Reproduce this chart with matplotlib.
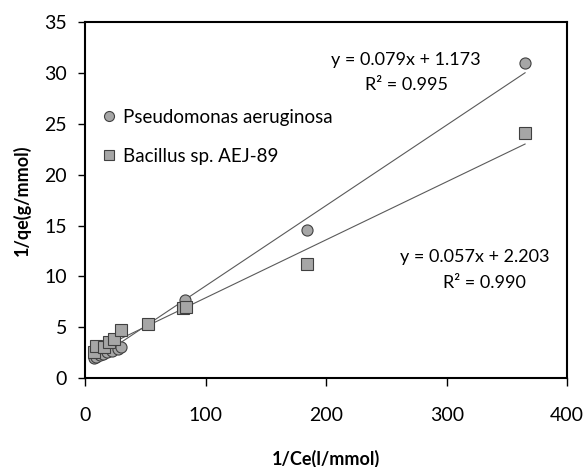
import numpy as np
import matplotlib
matplotlib.use('Agg')
import matplotlib.pyplot as plt

plt.rcParams['font.family'] = ['Lato', 'DejaVu Sans']

# Pseudomonas aeruginosa
pseudoX = [7, 9, 12, 15, 18, 22, 27, 30, 83, 184, 365]
pseudoY = [1.95, 2.1, 2.3, 2.4, 2.6, 2.7, 2.9, 3.1, 7.7, 14.6, 31.0]
pseudoFit = (0.079, 1.173)

# Bacillus sp. AEJ-89
bacX = [7, 9, 16, 20, 24, 30, 52, 81, 84, 184, 365]
bacY = [2.6, 3.2, 3.1, 3.6, 3.9, 4.7, 5.3, 6.9, 7.0, 11.2, 24.1]
bacFit = (0.057, 2.203)

fig = plt.figure(figsize=(5.83, 4.67), dpi=100)
ax = fig.add_axes([0.146, 0.19, 0.827, 0.763])

fillCol = '#a6a6a6'
edgeCol = '#404040'
lineCol = '#5a5a5a'

for xs, fit in [(pseudoX, pseudoFit), (bacX, bacFit)]:
    xl = np.array([min(xs), max(xs)])
    ax.plot(xl, fit[0] * xl + fit[1], color=lineCol, lw=0.8, zorder=2)

ax.plot(pseudoX, pseudoY, 'o', ms=8, mfc=fillCol, mec=edgeCol, mew=0.8,
        label='Pseudomonas aeruginosa', zorder=3)
ax.plot(bacX, bacY, 's', ms=8, mfc=fillCol, mec=edgeCol, mew=0.8,
        label='Bacillus sp. AEJ-89', zorder=4)

ax.text(266, 31.3, 'y = 0.079x + 1.173', ha='center', va='center', fontsize=13)
ax.text(267, 28.8, 'R² = 0.995', ha='center', va='center', fontsize=13)
ax.text(323, 11.9, 'y = 0.057x + 2.203', ha='center', va='center', fontsize=13)
ax.text(331, 9.4, 'R² = 0.990', ha='center', va='center', fontsize=13)

ax.set_xlim(0, 400)
ax.set_ylim(0, 35)
ax.set_xticks([0, 100, 200, 300, 400])
ax.set_yticks([0, 5, 10, 15, 20, 25, 30, 35])
ax.tick_params(direction='out', width=1, labelsize=14)
ax.tick_params(axis='x', length=6, pad=15)
ax.tick_params(axis='y', length=5, pad=8)
for s in ax.spines.values():
    s.set_linewidth(1.5)

ax.set_xlabel('1/Ce(l/mmol)', fontsize=13, fontweight='bold', labelpad=18)
ax.set_ylabel('1/qe(g/mmol)', fontsize=13, fontweight='bold', labelpad=10)

leg = ax.legend(loc='upper left', bbox_to_anchor=(0.035, 0.757), frameon=False,
                fontsize=13.5, handletextpad=0.3, markerscale=0.9,
                labelspacing=1.2, handlelength=0.8, borderpad=0,
                borderaxespad=0)

fig.savefig('out.png', dpi=100)
